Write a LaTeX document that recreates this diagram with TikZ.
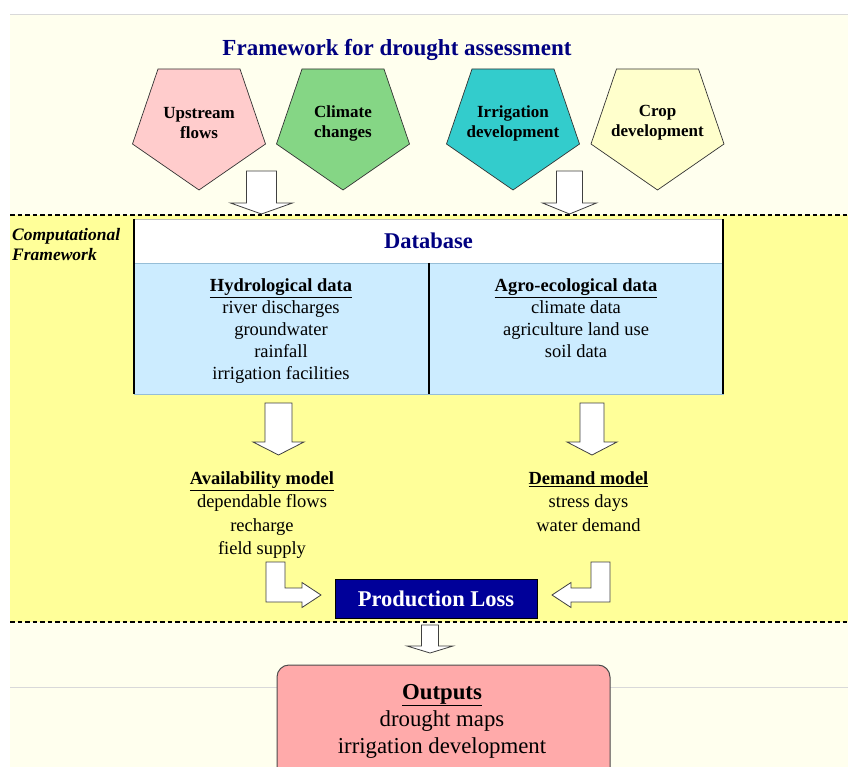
\documentclass[tikz,border=0pt]{standalone}
\usepackage{fontspec}
\setmainfont{Liberation Serif}
\usepackage{tikz}
\usetikzlibrary{calc,positioning}

\definecolor{navytxt}{RGB}{0,0,128}
\definecolor{lossblue}{RGB}{0,0,153}
\definecolor{cream}{RGB}{255,255,238}
\definecolor{bandyellow}{RGB}{255,255,153}
\definecolor{dbblue}{RGB}{204,236,255}
\definecolor{dbedge}{RGB}{150,190,215}
\definecolor{uppink}{RGB}{255,204,204}
\definecolor{climgreen}{RGB}{133,214,133}
\definecolor{irrteal}{RGB}{51,204,204}
\definecolor{cropyellow}{RGB}{255,255,204}
\definecolor{outpink}{RGB}{255,170,170}

% block arrow pointing down: from, tip, shaft half width, head half width, head length
\newcommand{\downblock}[5]{%
  \draw[blockarr] ($(#1)+(-#3,0)$) -- ($(#2)+(-#3,-#5)$) -- ($(#2)+(-#4,-#5)$) -- (#2)
    -- ($(#2)+(#4,-#5)$) -- ($(#2)+(#3,-#5)$) -- ($(#1)+(#3,0)$) -- cycle;}
% bent block arrow: from, tip, direction (1 right, -1 left)
\newcommand{\bentblock}[3]{%
  \draw[blockarr] ($(#1)+({-9.5*(#3)},0)$) -- ($(#1 |- #2)+({-9.5*(#3)},7)$)
    -- ($(#2)+({-19*(#3)},7)$) -- ($(#2)+({-19*(#3)},12.5)$) -- (#2)
    -- ($(#2)+({-19*(#3)},-12.5)$) -- ($(#2)+({-19*(#3)},-7)$)
    -- ($(#1 |- #2)+({9.5*(#3)},-7)$) -- ($(#1)+({9.5*(#3)},0)$) -- cycle;}

\begin{document}
\begin{tikzpicture}[
    x=1pt,
    y=-1pt,
    penta/.style={draw=black!80,line width=0.7pt,line join=miter},
    pentatxt/.style={align=center,inner sep=0pt,font=\bfseries\fontsize{17}{20}\selectfont},
    blockarr/.style={draw=black!75,fill=white,line width=0.8pt,line join=miter},
    dashline/.style={line width=2.4pt,dash pattern=on 4.5pt off 3pt},
    dbhead/.style={draw=gray!50,fill=white,minimum width=589pt,minimum height=44pt,inner sep=0pt,
      text=navytxt,font=\bfseries\fontsize{22.5}{26}\selectfont},
    dbcol/.style={draw=dbedge,fill=dbblue,minimum width=294.5pt,minimum height=131pt,inner sep=0pt},
    txt/.style={align=center,inner sep=0pt,font=\fontsize{18.5}{22}\selectfont},
    lossbox/.style={draw=black,fill=lossblue,text=white,minimum width=202pt,minimum height=39pt,
      inner sep=0pt,font=\bfseries\fontsize{22.5}{26}\selectfont},
    outbox/.style={draw=black!70,line width=1pt,fill=outpink,rounded corners=12pt,
      minimum width=333pt,minimum height=124pt,inner sep=0pt}
    ]
    \useasboundingbox (0,0) rectangle (848,767);
    \clip (0,0) rectangle (848,767);

    % background bands
    \fill[cream] (10,14) rectangle (848,767);
    \draw[gray!30] (10,14) -- (848,14);
    \fill[bandyellow] (10,215) rectangle (848,622);
    \draw[dashline] (10,215) -- (848,215);
    \draw[dashline] (10,622) -- (848,622);
    \draw[gray!30] (10,687.5) -- (848,687.5);

    \node[text=navytxt,font=\bfseries\fontsize{23}{27}\selectfont] (title) at (397,50)
      {Framework for drought assessment};

    % drivers
    \foreach \n/\cx/\col/\lab in {up/199/uppink/{Upstream\\flows},
        clim/343/climgreen/{Climate\\changes},
        irr/513/irrteal/{Irrigation\\development},
        crop/657.5/cropyellow/{Crop\\development}}{
      \draw[penta,fill=\col] (\cx-41,69) -- (\cx+41,69) -- (\cx+66.5,144) -- (\cx,190)
        -- (\cx-66.5,144) -- cycle;
      \node[pentatxt] (\n) at (\cx,123) {\lab};
    }

    \coordinate (a1) at (261.5,171);
    \coordinate (a1t) at (261.5,214);
    \coordinate (a2) at (569.5,171);
    \coordinate (a2t) at (569.5,214);
    \downblock{a1}{a1t}{15}{31}{11}
    \downblock{a2}{a2t}{13}{27}{11}

    \node[anchor=west,align=left,inner sep=0pt,
      font=\bfseries\itshape\fontsize{17.5}{20}\selectfont] (comp) at (12,245)
      {Computational\\Framework};

    % database
    \node[dbhead] (db) at (428.5,241) {Database};
    \node[dbcol] (hyd) at (281.25,328.5) {};
    \node[dbcol] (agro) at (575.75,328.5) {};
    \draw[line width=2pt] (db.north west) -- (hyd.south west);
    \draw[line width=2pt] (db.north east) -- (agro.south east);
    \draw[line width=2pt] (hyd.north east) -- (hyd.south east);
    \node[txt,anchor=north] (hydtxt) at (281,278.5)
      {\underline{\textbf{Hydrological data}}\\river discharges\\groundwater\\rainfall\\irrigation facilities};
    \node[txt,anchor=north] (agrotxt) at (576,278.5)
      {\underline{\textbf{Agro-ecological data}}\\climate data\\agriculture land use\\soil data};

    \coordinate (a3) at (278.5,403);
    \coordinate (a3t) at (278.5,455);
    \coordinate (a4) at (592,403);
    \coordinate (a4t) at (592,455);
    \downblock{a3}{a3t}{13.5}{25.5}{13}
    \downblock{a4}{a4t}{12}{25}{13}

    % models
    \node[txt,anchor=north,font=\fontsize{18.5}{23.3}\selectfont] (avail) at (262,471.5)
      {\underline{\textbf{Availability model}}\\dependable flows\\recharge\\field supply};
    \node[txt,anchor=north,font=\fontsize{18.5}{23.3}\selectfont] (dem) at (588.5,471.5)
      {\underline{\textbf{Demand model}}\\stress days\\water demand};

    \node[lossbox] (loss) at (436,598.5) {Production Loss};

    \coordinate (b1) at (275.5,562);
    \coordinate (b1t) at (321,595);
    \coordinate (b2) at (600.5,562);
    \coordinate (b2t) at (552,595);
    \bentblock{b1}{b1t}{1}
    \bentblock{b2}{b2t}{-1}

    % outputs
    \coordinate (a5) at (430,625);
    \coordinate (a5t) at (430,653);
    \downblock{a5}{a5t}{8.5}{23}{7}
    \node[outbox] (out) at (443.5,727) {};
    \node[txt,anchor=north,font=\fontsize{22.8}{27}\selectfont] (outtxt) at (442,684)
      {\underline{\textbf{Outputs}}\\drought maps\\irrigation development};
\end{tikzpicture}
\end{document}
